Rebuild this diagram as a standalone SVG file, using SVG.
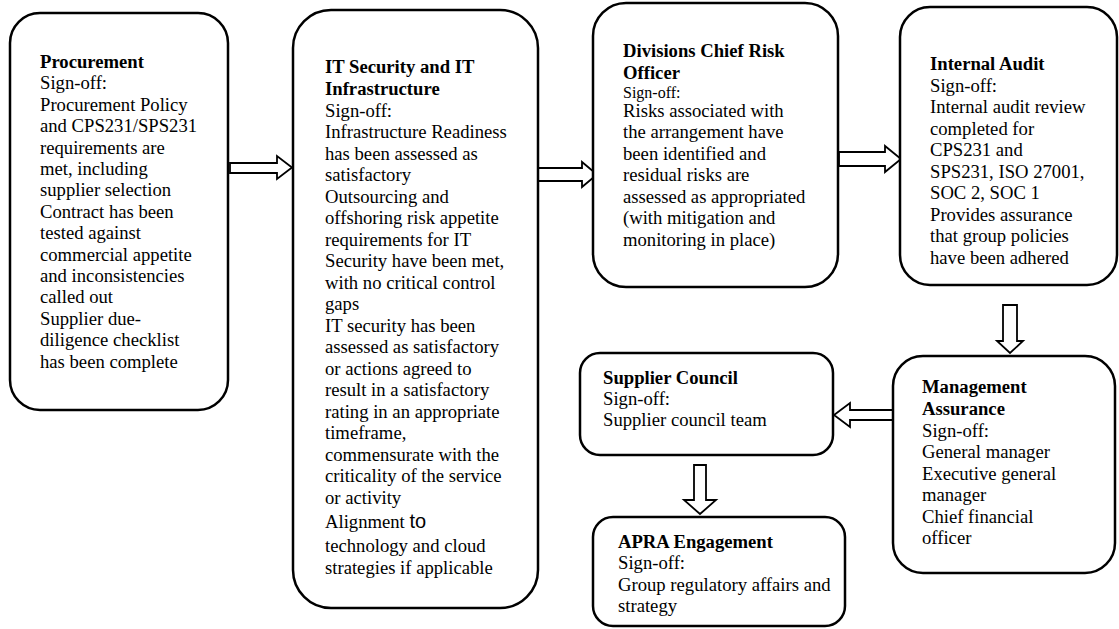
<svg xmlns="http://www.w3.org/2000/svg" width="1119" height="629" viewBox="0 0 1119 629">
<style>
.box{fill:#fff;stroke:#000;stroke-width:2.5}
.arr{fill:#fff;stroke:#000;stroke-width:1.8;stroke-linejoin:miter}
text{font-family:"Liberation Serif","Times New Roman",serif;font-size:18.67px;fill:#000}
.b{font-weight:bold}
.s{font-size:16px}
</style>
<rect width="1119" height="629" fill="#fff"/>
<g id="connectors">
<polygon class="arr" points="230,163 277,163 277,156 292,167.5 277,179 277,173 230,173"/>
<polygon class="arr" points="538,168 582,168 582,162 597,174.5 582,187 582,181 538,181"/>
<polygon class="arr" points="839,152 885,152 885,146 901,159 885,172 885,166 839,166"/>
<polygon class="arr" points="1003,305 1017,305 1017,341 1023,341 1010,353 997,341 1003,341"/>
<polygon class="arr" points="893,410 850,410 850,403 834,415 850,427 850,420 893,420"/>
<polygon class="arr" points="694,465 706,465 706,500 716,500 700,514 684,500 694,500"/>
</g>
<g id="procurement">
<rect class="box" x="10" y="13" width="218" height="397" rx="30"/>
<text x="40" y="68"><tspan class="b">Procurement</tspan><tspan x="40" dy="21.4">Sign-off:</tspan><tspan x="40" dy="21.4">Procurement Policy</tspan><tspan x="40" dy="21.4">and CPS231/SPS231</tspan><tspan x="40" dy="21.4">requirements are</tspan><tspan x="40" dy="21.4">met, including</tspan><tspan x="40" dy="21.4">supplier selection</tspan><tspan x="40" dy="21.4">Contract has been</tspan><tspan x="40" dy="21.4">tested against</tspan><tspan x="40" dy="21.4">commercial appetite</tspan><tspan x="40" dy="21.4">and inconsistencies</tspan><tspan x="40" dy="21.4">called out</tspan><tspan x="40" dy="21.4">Supplier due-</tspan><tspan x="40" dy="21.4">diligence checklist</tspan><tspan x="40" dy="21.4">has been complete</tspan></text>
</g>
<g id="it-security">
<rect class="box" x="293" y="10" width="245" height="598" rx="38"/>
<text x="325" y="73"><tspan class="b">IT Security and IT</tspan><tspan x="325" dy="22" class="b">Infrastructure</tspan><tspan x="325" dy="21.5">Sign-off:</tspan><tspan x="325" dy="21.5">Infrastructure Readiness</tspan><tspan x="325" dy="21.5">has been assessed as</tspan><tspan x="325" dy="21.5">satisfactory</tspan><tspan x="325" dy="21.5">Outsourcing and</tspan><tspan x="325" dy="21.5">offshoring risk appetite</tspan><tspan x="325" dy="21.5">requirements for IT</tspan><tspan x="325" dy="21.5">Security have been met,</tspan><tspan x="325" dy="21.5">with no critical control</tspan><tspan x="325" dy="21.5">gaps</tspan><tspan x="325" dy="21.5">IT security has been</tspan><tspan x="325" dy="21.5">assessed as satisfactory</tspan><tspan x="325" dy="21.5">or actions agreed to</tspan><tspan x="325" dy="21.5">result in a satisfactory</tspan><tspan x="325" dy="21.5">rating in an appropriate</tspan><tspan x="325" dy="21.5">timeframe,</tspan><tspan x="325" dy="21.5">commensurate with the</tspan><tspan x="325" dy="21.5">criticality of the service</tspan><tspan x="325" dy="21.5">or activity</tspan><tspan x="325" dy="24.5">Alignment </tspan><tspan style="font-family:'Liberation Sans',Arial,sans-serif;font-size:20px">to</tspan><tspan x="325" dy="24">technology and cloud</tspan><tspan x="325" dy="21.5">strategies if applicable</tspan></text>
</g>
<g id="divisions-cro">
<rect class="box" x="593" y="3" width="245" height="284" rx="33"/>
<text x="623" y="57"><tspan class="b">Divisions Chief Risk</tspan><tspan x="623" dy="21.5" class="b">Officer</tspan><tspan x="623" dy="19" class="s">Sign-off:</tspan><tspan x="623" dy="19">Risks associated with</tspan><tspan x="623" dy="21.5">the arrangement have</tspan><tspan x="623" dy="21.5">been identified and</tspan><tspan x="623" dy="21.5">residual risks are</tspan><tspan x="623" dy="21.5">assessed as appropriated</tspan><tspan x="623" dy="21.5">(with mitigation and</tspan><tspan x="623" dy="21.5">monitoring in place)</tspan></text>
</g>
<g id="internal-audit">
<rect class="box" x="900" y="7" width="217" height="278" rx="30"/>
<text x="930" y="70"><tspan class="b">Internal Audit</tspan><tspan x="930" dy="21.5">Sign-off:</tspan><tspan x="930" dy="21.5">Internal audit review</tspan><tspan x="930" dy="21.5">completed for</tspan><tspan x="930" dy="21.5">CPS231 and</tspan><tspan x="930" dy="21.5">SPS231, ISO 27001,</tspan><tspan x="930" dy="21.5">SOC 2, SOC 1</tspan><tspan x="930" dy="21.5">Provides assurance</tspan><tspan x="930" dy="21.5">that group policies</tspan><tspan x="930" dy="21.5">have been adhered</tspan></text>
</g>
<g id="management-assurance">
<rect class="box" x="893" y="356" width="222" height="217" rx="30"/>
<text x="922" y="393"><tspan class="b">Management</tspan><tspan x="922" dy="22" class="b">Assurance</tspan><tspan x="922" dy="21.5">Sign-off:</tspan><tspan x="922" dy="21.5">General manager</tspan><tspan x="922" dy="21.5">Executive general</tspan><tspan x="922" dy="21.5">manager</tspan><tspan x="922" dy="21.5">Chief financial</tspan><tspan x="922" dy="21.5">officer</tspan></text>
</g>
<g id="supplier-council">
<rect class="box" x="580" y="353" width="253" height="102" rx="20"/>
<text x="603" y="384"><tspan class="b">Supplier Council</tspan><tspan x="603" dy="21">Sign-off:</tspan><tspan x="603" dy="21">Supplier council team</tspan></text>
</g>
<g id="apra-engagement">
<rect class="box" x="593" y="517" width="252" height="109" rx="20"/>
<text x="618" y="548"><tspan class="b">APRA Engagement</tspan><tspan x="618" dy="21">Sign-off:</tspan><tspan x="618" dy="21.5">Group regulatory affairs and</tspan><tspan x="618" dy="21.5">strategy</tspan></text>
</g>
</svg>
